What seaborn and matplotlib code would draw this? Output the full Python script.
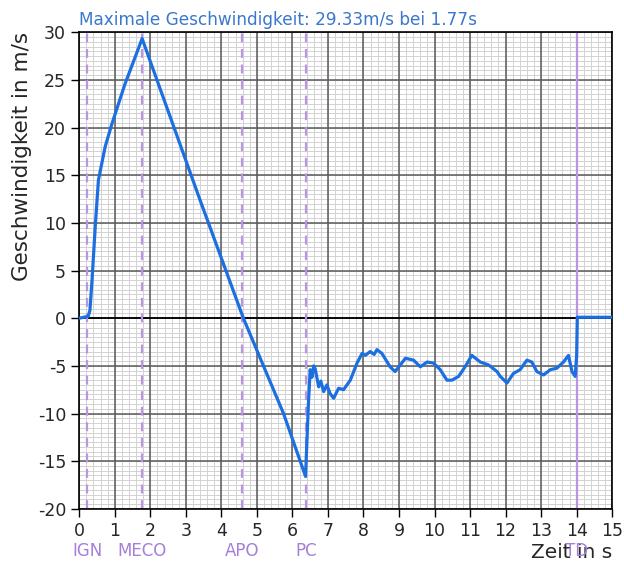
import numpy as np
import pandas as pd
import matplotlib
matplotlib.use("Agg")
import matplotlib.pyplot as plt
import seaborn as sns
from matplotlib.ticker import MultipleLocator
from matplotlib.transforms import blended_transform_factory

# Flight velocity trace (time in s, velocity in m/s)
zeit = [0.00, 0.25, 0.30, 0.36, 0.45, 0.54, 0.73, 0.92, 1.29, 1.77,
        3.40, 4.62, 5.75, 6.37, 6.45, 6.50, 6.55, 6.60, 6.64, 6.74,
        6.80, 6.88, 6.97, 7.06, 7.16, 7.30, 7.44, 7.63, 7.82, 7.96,
        8.05, 8.19, 8.30, 8.38, 8.52, 8.75, 8.89, 9.08, 9.18, 9.41,
        9.60, 9.79, 9.97, 10.16, 10.35, 10.49, 10.68, 10.86, 11.05, 11.29,
        11.52, 11.76, 11.85, 12.04, 12.22, 12.41, 12.60, 12.74, 12.88, 13.07,
        13.26, 13.44, 13.63, 13.77, 13.87, 13.96, 14.00, 14.02, 15.00]
geschw = [0.0, 0.2, 0.8, 4.0, 9.6, 14.5, 18.0, 20.4, 24.6, 29.33,
          12.4, 0.0, -10.0, -16.6, -9.0, -5.4, -6.2, -5.0, -5.3, -7.2,
          -6.6, -7.7, -7.0, -7.9, -8.4, -7.35, -7.5, -6.5, -4.7, -3.7,
          -3.9, -3.5, -3.8, -3.3, -3.7, -5.1, -5.6, -4.7, -4.2, -4.4,
          -5.1, -4.6, -4.7, -5.4, -6.5, -6.5, -6.1, -5.1, -3.9, -4.6,
          -4.9, -5.6, -6.1, -6.8, -5.8, -5.4, -4.4, -4.6, -5.6, -5.95,
          -5.4, -5.25, -4.6, -3.9, -5.6, -6.1, -4.0, 0.1, 0.1]

# Flight events
ereignis_namen = ["IGN", "MECO", "APO", "PC", "TD"]
ereignis_zeiten = [0.22, 1.77, 4.58, 6.39, 14.0]

df = pd.DataFrame({"Zeit": zeit, "Geschwindigkeit": geschw})
i_max = df["Geschwindigkeit"].idxmax()
v_max = df.loc[i_max, "Geschwindigkeit"]
t_max = df.loc[i_max, "Zeit"]

sns.set_style("white")
plt.rcParams["font.family"] = ["DejaVu Sans"]
plt.rcParams["axes.unicode_minus"] = False

fig = plt.figure(figsize=(6.24, 5.66), dpi=100)
ax = fig.add_axes([0.127, 0.101, 0.854, 0.842])

x_min, x_max, y_min, y_max = 0, 15, -20, 30
ax.set_xlim(x_min, x_max)
ax.set_ylim(y_min, y_max)
ax.xaxis.set_major_locator(MultipleLocator(1))
ax.yaxis.set_major_locator(MultipleLocator(5))

# fine millimetre-paper grid underneath the major grid
ax.vlines(np.arange(x_min, x_max, 0.2), y_min, y_max,
          color="#d2d2d2", linewidth=0.7, zorder=0.1)
ax.hlines(np.arange(y_min, y_max, 0.5), x_min, x_max,
          color="#d2d2d2", linewidth=0.7, zorder=0.1)
ax.grid(which="major", color="#5a5a5a", linewidth=1.1)
ax.set_axisbelow(True)

ax.axhline(0, color="black", linewidth=1.3, zorder=2)

for t, name in zip(ereignis_zeiten, ereignis_namen):
    style = "-" if name == "TD" else (0, (4, 3))
    ax.axvline(t, color="#b995e3", linewidth=1.6, linestyle=style, zorder=2)

sns.lineplot(data=df, x="Zeit", y="Geschwindigkeit", ax=ax,
             color="#1c6fe0", linewidth=2.3, zorder=3)

trans = blended_transform_factory(ax.transData, ax.transAxes)
for t, name in zip(ereignis_zeiten, ereignis_namen):
    ax.text(t, -0.089, name, transform=trans, ha="center", va="center",
            color="#a57fd8", fontsize=12)

ax.text(0.0, 1.006, f"Maximale Geschwindigkeit: {v_max:.2f}m/s bei {t_max:.2f}s",
        transform=ax.transAxes, ha="left", va="bottom",
        color="#3a78cc", fontsize=12.2)

ax.set_xlabel("Zeit in s", loc="right", fontsize=14.5, labelpad=2)
ax.set_ylabel("Geschwindigkeit in m/s", loc="top", fontsize=15.5)
ax.tick_params(axis="both", which="major", direction="out", length=6,
               width=1, color="black", labelsize=12.5, bottom=True, left=True)
for s in ax.spines.values():
    s.set_color("black")
    s.set_linewidth(1.2)

fig.savefig("out.png", dpi=100)
